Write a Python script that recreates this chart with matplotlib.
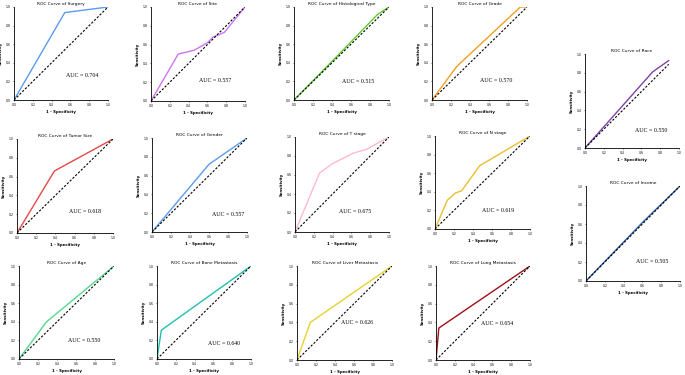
import matplotlib
matplotlib.use("Agg")
import matplotlib.pyplot as plt

# ---- data ----
titles = ["Surgery", "Site", "Histological Type", "Grade", "Race", "Income",
          "Tumor Size", "Gender", "T stage", "N stage",
          "Age", "Bone Metastasis", "Liver Metastasis", "Lung Metastasis"]
auc_values = ["0.704", "0.557", "0.515", "0.570", "0.550", "0.505",
              "0.618", "0.557", "0.675", "0.619",
              "0.550", "0.640", "0.626", "0.654"]

fpr_surgery = [0, 0.54, 1.0]
tpr_surgery = [0, 0.94, 1.0]
fpr_site = [0, 0.29, 0.46, 0.60, 0.66, 0.78, 1.0]
tpr_site = [0, 0.50, 0.54, 0.62, 0.68, 0.73, 1.0]
fpr_hist = [0, 0.50, 0.88, 1.0]
tpr_hist = [0, 0.52, 0.92, 1.0]
fpr_grade = [0, 0.26, 0.93, 1.0]
tpr_grade = [0, 0.36, 1.0, 1.0]
fpr_race = [0, 0.72, 0.89]
tpr_race = [0, 0.81, 0.93]
fpr_income = [0, 0.60, 1.0]
tpr_income = [0, 0.615, 1.0]
fpr_tumor = [0, 0.39, 1.0]
tpr_tumor = [0, 0.66, 1.0]
fpr_gender = [0, 0.60, 1.0]
tpr_gender = [0, 0.72, 1.0]
fpr_tstage = [0, 0.26, 0.40, 0.62, 0.76, 1.0]
tpr_tstage = [0, 0.62, 0.72, 0.83, 0.87, 1.0]
fpr_nstage = [0, 0.13, 0.22, 0.28, 0.47, 1.0]
tpr_nstage = [0, 0.31, 0.39, 0.41, 0.68, 1.0]
fpr_age = [0, 0.29, 1.0]
tpr_age = [0, 0.40, 1.0]
fpr_bone = [0, 0.046, 1.0]
tpr_bone = [0, 0.31, 1.0]
fpr_liver = [0, 0.14, 1.0]
tpr_liver = [0, 0.40, 1.0]
fpr_lung = [0, 0.03, 1.0]
tpr_lung = [0, 0.34, 1.0]

fprs = [fpr_surgery, fpr_site, fpr_hist, fpr_grade, fpr_race, fpr_income,
        fpr_tumor, fpr_gender, fpr_tstage, fpr_nstage,
        fpr_age, fpr_bone, fpr_liver, fpr_lung]
tprs = [tpr_surgery, tpr_site, tpr_hist, tpr_grade, tpr_race, tpr_income,
        tpr_tumor, tpr_gender, tpr_tstage, tpr_nstage,
        tpr_age, tpr_bone, tpr_liver, tpr_lung]
diag_end = [1, 1, 1, 1, 0.89, 1, 1, 1, 1, 1, 1, 1, 1, 1]

colors = ["#5b9bf0", "#cc77ee", "#5ccc30", "#f0a020", "#8040a8", "#3060b0",
          "#e84848", "#5b9bf0", "#ffb8d4", "#e8c030",
          "#55d890", "#20c0b0", "#e8d030", "#a01018"]

# pixel boxes: left, top, right, bottom
boxes = [(14, 7, 108, 100), (151, 7, 245, 101), (294, 7, 389, 100), (432, 7, 527, 100),
         (585, 54, 679, 148), (586, 186, 680, 281),
         (17, 139, 113, 233), (152, 138, 247, 232), (295, 137, 389, 232), (435, 136, 530, 229),
         (19, 266, 114, 359), (157, 266, 251, 359), (297, 266, 392, 360), (436, 266, 530, 360)]
auc_pos = [(0.72, 0.26), (0.68, 0.22), (0.67, 0.20), (0.68, 0.21), (0.70, 0.19), (0.70, 0.21),
           (0.71, 0.23), (0.80, 0.19), (0.64, 0.22), (0.66, 0.20),
           (0.69, 0.20), (0.71, 0.17), (0.63, 0.40), (0.65, 0.39)]

W, H = 685, 375
fig = plt.figure(figsize=(W / 100, H / 100), dpi=100)
fig.patch.set_facecolor("white")

for i in range(len(titles)):
    l, t, r, b = boxes[i]
    ax = fig.add_axes([l / W, 1 - b / H, (r - l) / W, (b - t) / H])
    ax.plot(fprs[i], tprs[i], color=colors[i], lw=1.0, zorder=2)
    d = diag_end[i]
    ax.plot([0, d], [0, d], color="black", lw=0.8, ls=(0, (2, 1.5)), zorder=3)
    ax.set_xlim(0, 1)
    ax.set_ylim(0, 1)
    ax.set_xticks([0, 0.2, 0.4, 0.6, 0.8, 1.0])
    ax.set_yticks([0, 0.2, 0.4, 0.6, 0.8, 1.0])
    ax.set_xticklabels(["0.0", "0.2", "0.4", "0.6", "0.8", "1.0"])
    ax.set_yticklabels(["0.0", "0.2", "0.4", "0.6", "0.8", "1.0"])
    ax.tick_params(labelsize=2.2, length=1, width=0.4, pad=1.5)
    for s in ["top", "right"]:
        ax.spines[s].set_visible(False)
    for s in ["left", "bottom"]:
        ax.spines[s].set_linewidth(0.6)
    ax.set_title("ROC Curve of " + titles[i], fontsize=3.2, pad=1.5)
    ax.set_xlabel("1 - Specificity", fontsize=2.8, fontweight="bold", labelpad=2)
    ax.set_ylabel("Sensitivity", fontsize=2.8, fontweight="bold", labelpad=2)
    ax.text(auc_pos[i][0], auc_pos[i][1], "AUC = " + auc_values[i],
            fontsize=4.2, family="Liberation Serif", ha="center", va="center",
            transform=ax.transAxes)

fig.savefig("out.png", dpi=100, facecolor="white")
